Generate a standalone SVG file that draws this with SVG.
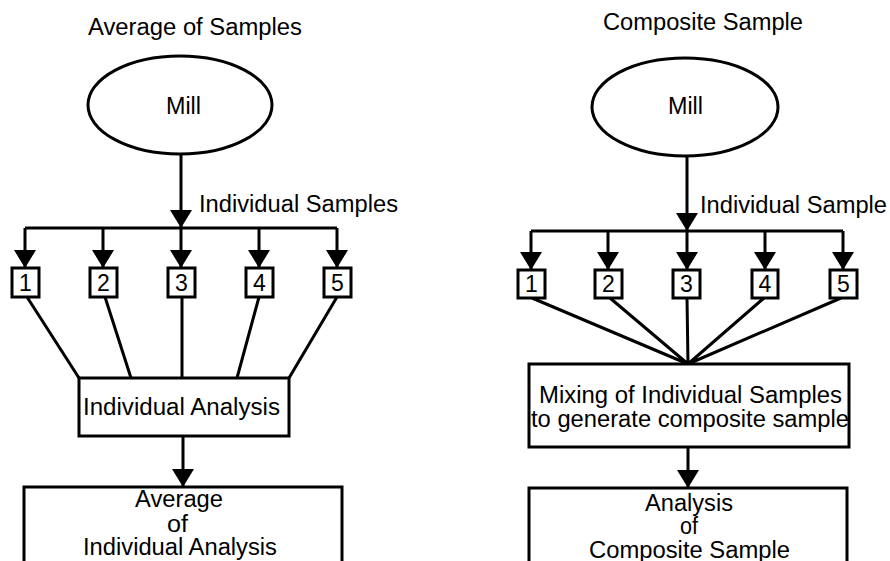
<svg xmlns="http://www.w3.org/2000/svg" width="890" height="561" viewBox="0 0 890 561">
<style>
text{font-family:"Liberation Sans",Arial,sans-serif;font-size:23px;fill:#000}
.c{text-anchor:middle;font-size:23px}
.shape{fill:#fff;stroke:#000;stroke-width:3}
.ln{fill:none;stroke:#000;stroke-width:3}
</style>
<defs>
<marker id="ah" viewBox="0 0 18 22" refX="18" refY="11" markerWidth="18" markerHeight="22" markerUnits="userSpaceOnUse" orient="auto">
<path d="M0,0 L18,11 L0,22 z" fill="#000"/>
</marker>
</defs>
<rect width="890" height="561" fill="#fff"/>

<text x="88" y="35" textLength="214" lengthAdjust="spacingAndGlyphs">Average of Samples</text>
<text x="603" y="30" textLength="200" lengthAdjust="spacingAndGlyphs">Composite Sample</text>

<g id="connectors">
<path class="ln" d="M181,154 V228" marker-end="url(#ah)"/>
<path class="ln" d="M25,228 H337"/>
<path class="ln" d="M25,228 V268" marker-end="url(#ah)"/>
<path class="ln" d="M103,228 V268" marker-end="url(#ah)"/>
<path class="ln" d="M181,228 V268" marker-end="url(#ah)"/>
<path class="ln" d="M259,228 V268" marker-end="url(#ah)"/>
<path class="ln" d="M337,228 V268" marker-end="url(#ah)"/>
<path class="ln" d="M27,297 L79,378 M105,297 L131,378 M182,297 L182,378 M259,297 L237,378 M337,297 L289,378"/>
<path class="ln" d="M183,436 V487" marker-end="url(#ah)"/>

<path class="ln" d="M687,157 V231" marker-end="url(#ah)"/>
<path class="ln" d="M531,231 H843"/>
<path class="ln" d="M531,231 V270" marker-end="url(#ah)"/>
<path class="ln" d="M608,231 V270" marker-end="url(#ah)"/>
<path class="ln" d="M687,231 V270" marker-end="url(#ah)"/>
<path class="ln" d="M765,231 V270" marker-end="url(#ah)"/>
<path class="ln" d="M843,231 V270" marker-end="url(#ah)"/>
<path class="ln" d="M532,298 L688,364 M610,298 L688,364 M687,298 L688,364 M764,298 L688,364 M841,298 L688,364"/>
<path class="ln" d="M688,447 V488" marker-end="url(#ah)"/>
</g>

<text x="199" y="212" textLength="199" lengthAdjust="spacingAndGlyphs">Individual Samples</text>
<text x="700" y="213" textLength="187" lengthAdjust="spacingAndGlyphs">Individual Sample</text>

<g id="mill-left">
<ellipse class="shape" cx="180" cy="105" rx="92" ry="49"/>
<text x="166" y="114" textLength="35" lengthAdjust="spacingAndGlyphs">Mill</text>
</g>
<g id="mill-right">
<ellipse class="shape" cx="685" cy="107" rx="93" ry="49"/>
<text x="668" y="114" textLength="35" lengthAdjust="spacingAndGlyphs">Mill</text>
</g>

<g id="left-sample-1"><rect class="shape" x="12" y="268" width="27" height="29"/><text class="c" x="25.5" y="291">1</text></g>
<g id="left-sample-2"><rect class="shape" x="90" y="268" width="27" height="29"/><text class="c" x="103.5" y="291">2</text></g>
<g id="left-sample-3"><rect class="shape" x="168" y="268" width="27" height="29"/><text class="c" x="181.5" y="291">3</text></g>
<g id="left-sample-4"><rect class="shape" x="246" y="268" width="27" height="29"/><text class="c" x="259.5" y="291">4</text></g>
<g id="left-sample-5"><rect class="shape" x="324" y="268" width="27" height="29"/><text class="c" x="337.5" y="291">5</text></g>

<g id="right-sample-1"><rect class="shape" x="518" y="270" width="27" height="28"/><text class="c" x="531.5" y="292">1</text></g>
<g id="right-sample-2"><rect class="shape" x="595" y="270" width="27" height="28"/><text class="c" x="608.5" y="292">2</text></g>
<g id="right-sample-3"><rect class="shape" x="673" y="270" width="27" height="28"/><text class="c" x="686.5" y="292">3</text></g>
<g id="right-sample-4"><rect class="shape" x="752" y="270" width="26" height="28"/><text class="c" x="765" y="292">4</text></g>
<g id="right-sample-5"><rect class="shape" x="830" y="270" width="27" height="28"/><text class="c" x="843.5" y="292">5</text></g>

<g id="individual-analysis">
<rect class="shape" x="79" y="378" width="210" height="58"/>
<text x="83" y="415" textLength="197" lengthAdjust="spacingAndGlyphs">Individual Analysis</text>
</g>
<g id="average-analysis">
<rect class="shape" x="24" y="487" width="318" height="120"/>
<text x="135" y="507" textLength="88" lengthAdjust="spacingAndGlyphs">Average</text>
<text x="167" y="532" textLength="21" lengthAdjust="spacingAndGlyphs">of</text>
<text x="83" y="555" textLength="194" lengthAdjust="spacingAndGlyphs">Individual Analysis</text>
</g>

<g id="mixing">
<rect class="shape" x="529" y="364" width="320" height="83"/>
<text x="539" y="403" textLength="303" lengthAdjust="spacingAndGlyphs">Mixing of Individual Samples</text>
<text x="531" y="427" textLength="318" lengthAdjust="spacingAndGlyphs">to generate composite sample</text>
</g>
<g id="composite-analysis">
<rect class="shape" x="529" y="488" width="318" height="120"/>
<text x="645" y="511" textLength="88" lengthAdjust="spacingAndGlyphs">Analysis</text>
<text x="680" y="534" textLength="18" lengthAdjust="spacingAndGlyphs">of</text>
<text x="589" y="558" textLength="201" lengthAdjust="spacingAndGlyphs">Composite Sample</text>
</g>
</svg>
